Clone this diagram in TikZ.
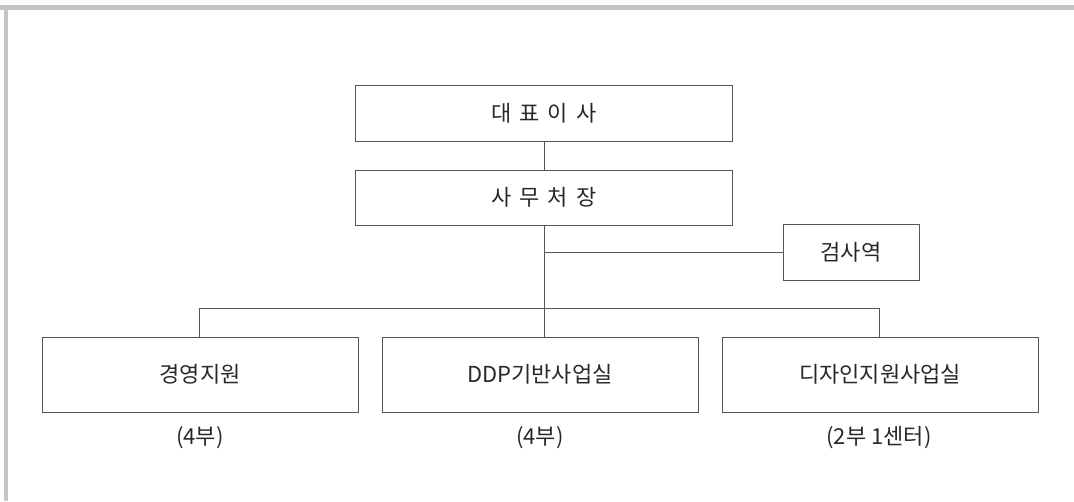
\documentclass[tikz,border=0pt]{standalone}
\usepackage{fontspec}
\setmainfont{Noto Sans CJK KR}
\definecolor{linec}{RGB}{85,85,85}
\definecolor{framec}{RGB}{196,196,200}
\definecolor{textc}{RGB}{40,40,40}
\begin{document}
\begin{tikzpicture}[x=1pt,y=-1pt,
  orgbox/.style={draw=linec,line width=1pt,rectangle,inner sep=0pt,text=textc,font=\fontsize{22}{26}\selectfont},
  conn/.style={draw=linec,line width=1pt},
  note/.style={text=textc,inner sep=0pt,font=\fontsize{22}{26}\selectfont}]
\useasboundingbox (0,0) rectangle (1074,501);
\fill[framec] (0,5) rectangle (1074,9.5);
\fill[framec] (3.5,5) rectangle (8,501);
\node[orgbox,minimum width=377pt,minimum height=56pt] (ceo) at (544,113) {대\hspace{8pt}표\hspace{8pt}이\hspace{8pt}사};
\node[orgbox,minimum width=377pt,minimum height=55pt] (sec) at (544,197.5) {사\hspace{8pt}무\hspace{8pt}처\hspace{8pt}장};
\node[orgbox,minimum width=136pt,minimum height=56pt] (aud) at (851,252.5) {검사역};
\node[orgbox,minimum width=316pt,minimum height=75pt] (d1) at (200,374.5) {경영지원};
\node[orgbox,minimum width=316pt,minimum height=75pt] (d2) at (540,374.5) {DDP기반사업실};
\node[orgbox,minimum width=316pt,minimum height=75pt] (d3) at (880,374.5) {디자인지원사업실};
\node[note] (n1) at (200,438) {(4부)};
\node[note] (n2) at (540,438) {(4부)};
\node[note] (n3) at (879,438) {(2부 1센터)};
\coordinate (audj) at (544,252.5);
\coordinate (busc) at (544,308);
\coordinate (busl) at (199,308);
\coordinate (busr) at (879,308);
\draw[conn] (ceo) -- (sec);
\draw[conn] (sec) -- (busc);
\draw[conn] (audj) -- (aud);
\draw[conn] (d1.north -| busl) -- (busl) -- (busr) -- (d3.north -| busr);
\draw[conn] (busc) -- (d2.north -| busc);
\end{tikzpicture}
\end{document}
